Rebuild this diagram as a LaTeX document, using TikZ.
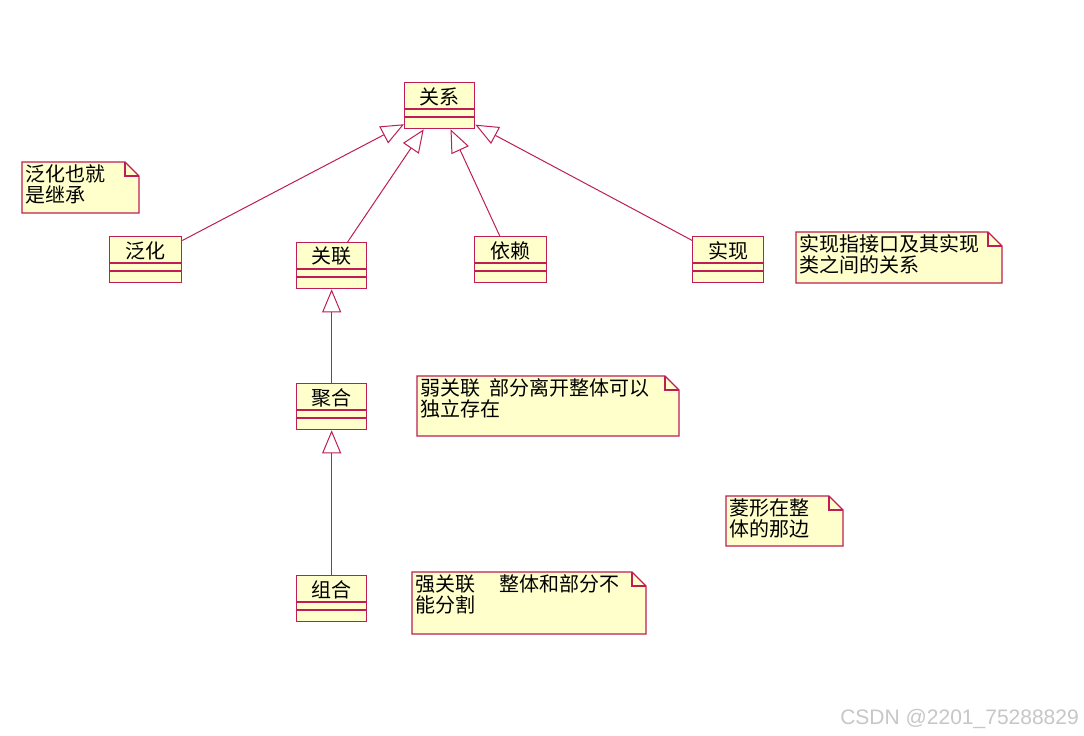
\documentclass[tikz,border=0pt]{standalone}
\usepackage{fontspec}
\setmainfont{Liberation Sans}
\newfontfamily\cjk{Noto Sans CJK SC}
\usetikzlibrary{arrows.meta,calc}
\definecolor{umlred}{RGB}{190,30,85}
\definecolor{umlfill}{RGB}{255,255,204}
\tikzset{
  umlline/.style={draw=umlred, line width=1.3pt},
  cls/.style={rectangle, draw=umlred, fill=umlfill, line width=1.3pt, minimum height=46pt, inner sep=0pt},
  clsname/.style={font=\cjk\fontsize{20}{22}\selectfont, inner sep=0pt, text=black},
  notebox/.style={draw=umlred, fill=umlfill, line width=1.3pt},
  notetext/.style={font=\cjk\fontsize{20}{21.5}\selectfont, inner sep=0pt, align=left, anchor=north west, text=black},
  gen/.style={draw=umlred, line width=1pt, -{Triangle[length=23pt,width=19pt,fill=white]}},
}
% name, left, top, width, text
\newcommand\UMLclass[5]{%
  \node[cls, minimum width=#4pt, anchor=north west] (#1) at (#2,#3) {};
  \node[clsname] (#1-t) at ($(#1.north)+(0,14.5)$) {#5};
  \draw[umlline] ($(#1.north west)+(0,27)$) -- ($(#1.north east)+(0,27)$);
  \draw[umlline] ($(#1.north west)+(0,35)$) -- ($(#1.north east)+(0,35)$);
}
% name, left, top, right, bottom, text
\newcommand\UMLnote[6]{%
  \draw[notebox] (#2,#3) -- (#4-14,#3) -- (#4,#3+14) -- (#4,#5) -- (#2,#5) -- cycle;
  \draw[umlline] (#4-14,#3) -- (#4-14,#3+14) -- (#4,#3+14);
  \node[notetext] (#1) at (#2+3,#3+2) {#6};
}
\begin{document}
\begin{tikzpicture}[x=1pt,y=-1pt]
\useasboundingbox[fill=white] (0,0) rectangle (1084,736);

\UMLclass{rel}{404}{82}{70}{关系}
\UMLclass{fh}{109}{236}{72}{泛化}
\UMLclass{gl}{296}{242}{70}{关联}
\UMLclass{yl}{474}{236}{72}{依赖}
\UMLclass{sx}{692}{236}{71}{实现}
\UMLclass{jh}{296}{383}{70}{聚合}
\UMLclass{zh}{296}{575}{70}{组合}

\draw[gen] (fh) -- (rel);
\draw[gen] (gl) -- (rel);
\draw[gen] (yl) -- (rel);
\draw[gen] (sx) -- (rel);
\draw[gen] (jh) -- (gl);
\draw[gen] (zh) -- (jh);

\UMLnote{n1}{22}{162}{139}{213}{泛化也就\\是继承}
\UMLnote{n2}{796}{232}{1002}{283}{实现指接口及其实现\\类之间的关系}
\UMLnote{n3}{417}{376}{679}{436}{弱关联\hspace{0.45em}部分离开整体可以\\独立存在}
\UMLnote{n4}{726}{496}{843}{546}{菱形在整\\体的那边}
\UMLnote{n5}{412}{572}{646}{634}{强关联\hspace{1.2em}整体和部分不\\能分割}

\node[font=\fontsize{21}{21}\selectfont, text=black!22, anchor=east, inner sep=0pt] (wm) at (1079,719) {CSDN @2201\_75288829};
\end{tikzpicture}
\end{document}
